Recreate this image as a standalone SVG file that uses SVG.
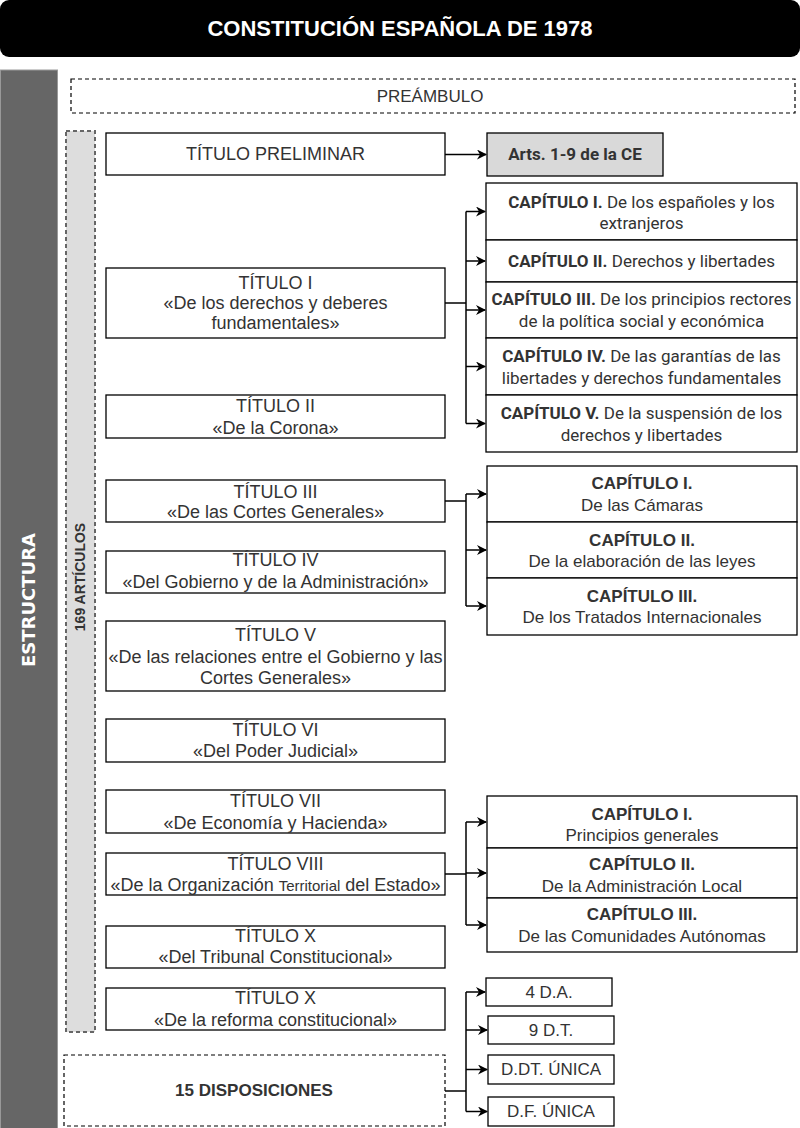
<svg xmlns="http://www.w3.org/2000/svg" width="800" height="1128" viewBox="0 0 800 1128">
<defs>
<marker id="arr" viewBox="0 0 10 10" refX="9" refY="5" markerWidth="10" markerHeight="10" markerUnits="userSpaceOnUse" orient="auto">
<path d="M0,0 L10,5 L0,10 L3,5 Z" fill="#000"/>
</marker>
</defs>
<style>
.box{fill:#fff;stroke:#000;stroke-width:1.3}
.dash{fill:#fff;stroke:#000;stroke-width:1.2;stroke-dasharray:4 3}
.gray{fill:#d9d9d9;stroke:#000;stroke-width:1.3}
.t{font-family:"Liberation Sans",Arial,sans-serif;font-size:18px;fill:#333;text-anchor:middle}
.c{font-family:"Liberation Sans",Arial,sans-serif;font-size:17px;fill:#333;text-anchor:middle}
.r{font-family:Roboto,"Liberation Sans",sans-serif;font-size:17px;fill:#333;text-anchor:middle}
.b{font-weight:bold}
.con{fill:none;stroke:#000;stroke-width:1.5}
</style>
<g id="header">
<rect x="0" y="0" width="800" height="57" rx="9" fill="#000"/>
<text x="400" y="36" font-family="Liberation Sans,Arial,sans-serif" font-size="22" font-weight="bold" fill="#fff" text-anchor="middle">CONSTITUCIÓN ESPAÑOLA DE 1978</text>
</g>
<g id="estructura">
<rect x="0.5" y="70" width="57" height="1060" fill="#666" stroke="#999" stroke-width="1"/>
<text transform="translate(35,600) rotate(-90)" font-family="DejaVu Sans,sans-serif" font-size="18" font-weight="bold" fill="#fff" text-anchor="middle">ESTRUCTURA</text>
</g>
<g id="articulos">
<rect x="66" y="131" width="29" height="901" fill="#ddd" stroke="#666" stroke-width="2" stroke-dasharray="4 3"/>
<text transform="translate(85,577) rotate(-90)" font-family="Liberation Sans,Arial,sans-serif" font-size="14" font-weight="bold" fill="#333" text-anchor="middle">169 ARTÍCULOS</text>
</g>
<g id="preambulo">
<rect class="dash" x="71" y="79" width="724" height="34"/>
<text class="c" x="430" y="102">PREÁMBULO</text>
</g>
<g id="titulo-preliminar">
<rect class="box" x="106" y="133" width="339" height="42"/>
<text class="t" x="275.5" y="160">TÍTULO PRELIMINAR</text>
</g>
<g id="arts">
<rect class="gray" x="487" y="133" width="176" height="43"/>
<text class="r b" x="575" y="160">Arts. 1-9 de la CE</text>
</g>
<g id="titulo-1">
<rect class="box" x="106" y="268" width="339" height="70"/>
<text class="t" x="275.5" y="289">TÍTULO I</text>
<text class="t" x="275.5" y="309">«De los derechos y deberes</text>
<text class="t" x="275.5" y="329">fundamentales»</text>
</g>
<g id="t1-cap1">
<rect class="box" x="486" y="183" width="311" height="57"/>
<text class="r" x="641.5" y="208"><tspan class="b">CAPÍTULO I.</tspan> De los españoles y los</text>
<text class="r" x="641.5" y="229">extranjeros</text>
</g>
<g id="t1-cap2">
<rect class="box" x="486" y="240" width="311" height="42"/>
<text class="r" x="641.5" y="267"><tspan class="b">CAPÍTULO II.</tspan> Derechos y libertades</text>
</g>
<g id="t1-cap3">
<rect class="box" x="486" y="282" width="311" height="56"/>
<text class="r" x="641.5" y="305"><tspan class="b">CAPÍTULO III.</tspan> De los principios rectores</text>
<text class="r" x="641.5" y="327">de la política social y económica</text>
</g>
<g id="t1-cap4">
<rect class="box" x="486" y="338" width="311" height="57"/>
<text class="r" x="641.5" y="362"><tspan class="b">CAPÍTULO IV.</tspan> De las garantías de las</text>
<text class="r" x="641.5" y="384">libertades y derechos fundamentales</text>
</g>
<g id="t1-cap5">
<rect class="box" x="486" y="395" width="311" height="57"/>
<text class="r" x="641.5" y="419"><tspan class="b">CAPÍTULO V.</tspan> De la suspensión de los</text>
<text class="r" x="641.5" y="441">derechos y libertades</text>
</g>
<g id="titulo-2">
<rect class="box" x="106" y="395" width="339" height="43"/>
<text class="t" x="275.5" y="412">TÍTULO II</text>
<text class="t" x="275.5" y="434">«De la Corona»</text>
</g>
<g id="titulo-3">
<rect class="box" x="106" y="480" width="339" height="42"/>
<text class="t" x="275.5" y="498">TÍTULO III</text>
<text class="t" x="275.5" y="518">«De las Cortes Generales»</text>
</g>
<g id="titulo-4">
<rect class="box" x="106" y="551" width="339" height="42"/>
<text class="t" x="275.5" y="566">TÍTULO IV</text>
<text class="t" x="275.5" y="588">«Del Gobierno y de la Administración»</text>
</g>
<g id="titulo-5">
<rect class="box" x="106" y="621" width="339" height="70"/>
<text class="t" x="275.5" y="641">TÍTULO V</text>
<text class="t" x="275.5" y="663">«De las relaciones entre el Gobierno y las</text>
<text class="t" x="275.5" y="684">Cortes Generales»</text>
</g>
<g id="t3-cap1">
<rect class="box" x="487" y="466" width="310" height="56"/>
<text class="c b" x="642" y="489">CAPÍTULO I.</text>
<text class="c" x="642" y="511">De las Cámaras</text>
</g>
<g id="t3-cap2">
<rect class="box" x="487" y="522" width="310" height="56"/>
<text class="c b" x="642" y="546">CAPÍTULO II.</text>
<text class="c" x="642" y="567">De la elaboración de las leyes</text>
</g>
<g id="t3-cap3">
<rect class="box" x="487" y="578" width="310" height="57"/>
<text class="c b" x="642" y="602">CAPÍTULO III.</text>
<text class="c" x="642" y="623">De los Tratados Internacionales</text>
</g>
<g id="titulo-6">
<rect class="box" x="106" y="719" width="339" height="43"/>
<text class="t" x="275.5" y="736">TÍTULO VI</text>
<text class="t" x="275.5" y="757">«Del Poder Judicial»</text>
</g>
<g id="titulo-7">
<rect class="box" x="106" y="790" width="339" height="43"/>
<text class="t" x="275.5" y="807">TÍTULO VII</text>
<text class="t" x="275.5" y="829">«De Economía y Hacienda»</text>
</g>
<g id="titulo-8">
<rect class="box" x="106" y="853" width="339" height="42"/>
<text class="t" x="275.5" y="870">TÍTULO VIII</text>
<text class="t" x="275.5" y="891">«De la Organización <tspan font-size="15">Territorial</tspan> del Estado»</text>
</g>
<g id="titulo-9">
<rect class="box" x="106" y="926" width="339" height="42"/>
<text class="t" x="275.5" y="942">TÍTULO X</text>
<text class="t" x="275.5" y="963">«Del Tribunal Constitucional»</text>
</g>
<g id="titulo-10">
<rect class="box" x="106" y="988" width="339" height="42"/>
<text class="t" x="275.5" y="1004">TÍTULO X</text>
<text class="t" x="275.5" y="1026">«De la reforma constitucional»</text>
</g>
<g id="t8-cap1">
<rect class="box" x="487" y="796" width="310" height="52"/>
<text class="c b" x="642" y="820">CAPÍTULO I.</text>
<text class="c" x="642" y="841">Principios generales</text>
</g>
<g id="t8-cap2">
<rect class="box" x="487" y="848" width="310" height="50"/>
<text class="c b" x="642" y="870">CAPÍTULO II.</text>
<text class="c" x="642" y="892">De la Administración Local</text>
</g>
<g id="t8-cap3">
<rect class="box" x="487" y="898" width="310" height="54"/>
<text class="c b" x="642" y="920">CAPÍTULO III.</text>
<text class="c" x="642" y="942">De las Comunidades Autónomas</text>
</g>
<g id="disposiciones">
<rect class="dash" x="64" y="1055" width="381" height="71"/>
<text class="c b" x="254" y="1096">15 DISPOSICIONES</text>
</g>
<g id="da">
<rect class="box" x="486" y="978" width="126" height="28"/>
<text class="c" x="549" y="998">4 D.A.</text>
</g>
<g id="dt">
<rect class="box" x="488" y="1016" width="126" height="28"/>
<text class="c" x="551" y="1036">9 D.T.</text>
</g>
<g id="ddt">
<rect class="box" x="488" y="1055" width="126" height="29"/>
<text class="c" x="551" y="1075">D.DT. ÚNICA</text>
</g>
<g id="df">
<rect class="box" x="488" y="1097" width="126" height="29"/>
<text class="c" x="551" y="1117">D.F. ÚNICA</text>
</g>
<g id="connectors">
<path class="con" d="M445,154.5 H486" marker-end="url(#arr)"/>
<path class="con" d="M445,303 H466"/>
<path class="con" d="M466,211.5 V423.5"/>
<path class="con" d="M466,211.5 H485" marker-end="url(#arr)"/>
<path class="con" d="M466,261 H485" marker-end="url(#arr)"/>
<path class="con" d="M466,310 H485" marker-end="url(#arr)"/>
<path class="con" d="M466,366.5 H485" marker-end="url(#arr)"/>
<path class="con" d="M466,423.5 H485" marker-end="url(#arr)"/>
<path class="con" d="M445,501 H466"/>
<path class="con" d="M466,494 V606"/>
<path class="con" d="M466,494 H486" marker-end="url(#arr)"/>
<path class="con" d="M466,550 H486" marker-end="url(#arr)"/>
<path class="con" d="M466,606 H486" marker-end="url(#arr)"/>
<path class="con" d="M445,874 H466"/>
<path class="con" d="M466,822 V925"/>
<path class="con" d="M466,822 H486" marker-end="url(#arr)"/>
<path class="con" d="M466,873 H486" marker-end="url(#arr)"/>
<path class="con" d="M466,925 H486" marker-end="url(#arr)"/>
<path class="con" d="M445,1091 H466"/>
<path class="con" d="M466,992 V1111.5"/>
<path class="con" d="M466,992 H485" marker-end="url(#arr)"/>
<path class="con" d="M466,1030 H487" marker-end="url(#arr)"/>
<path class="con" d="M466,1069.5 H487" marker-end="url(#arr)"/>
<path class="con" d="M466,1111.5 H487" marker-end="url(#arr)"/>
</g>
</svg>
